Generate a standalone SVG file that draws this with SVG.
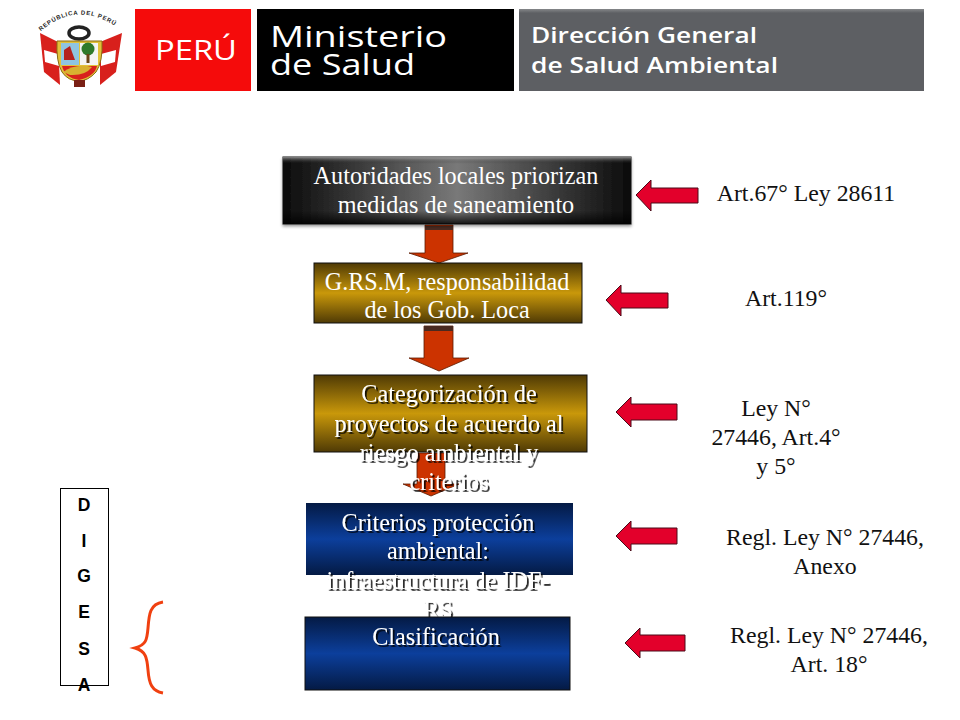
<svg xmlns="http://www.w3.org/2000/svg" width="960" height="720" viewBox="0 0 960 720">
<style>
.box{stroke:#111;stroke-width:1}
.t{font-family:"Liberation Serif","Times New Roman",serif;font-size:24.200px;fill:#fff;text-anchor:middle}
.s{filter:url(#ts)}
.k{font-family:"Liberation Serif","Times New Roman",serif;font-size:23.800px;fill:#111;text-anchor:middle}
.h{font-family:"Open Sans","Noto Sans",sans-serif;fill:#fff}
.l{font-family:"Liberation Sans",Arial,sans-serif;font-size:17.500px;font-weight:bold;fill:#000;text-anchor:middle}
.ra{fill:#e3002b;stroke:#4a0a18;stroke-width:1}
.da{fill:#cc3300;stroke:#5a1a00;stroke-width:.8}
</style>
<defs>
<linearGradient id="gold" x1="0" y1="0" x2="0" y2="1"><stop offset="0" stop-color="#4f3a05"/><stop offset=".5" stop-color="#c9980a"/><stop offset="1" stop-color="#4f3a05"/></linearGradient>
<linearGradient id="blue" x1="0" y1="0" x2="0" y2="1"><stop offset="0" stop-color="#041a44"/><stop offset=".5" stop-color="#0c3f9c"/><stop offset="1" stop-color="#041a44"/></linearGradient>
<linearGradient id="grayv" x1="0" y1="0" x2="0" y2="1"><stop offset="0" stop-color="#85878a"/><stop offset=".05" stop-color="#5d5f63"/><stop offset="1" stop-color="#5d5f63"/></linearGradient>
<linearGradient id="darkh" x1="0" y1="0" x2="1" y2="0"><stop offset="0" stop-color="#0c0c0c"/><stop offset=".5" stop-color="#868686"/><stop offset="1" stop-color="#0c0c0c"/></linearGradient>
<linearGradient id="darkv" x1="0" y1="0" x2="0" y2="1"><stop offset="0" stop-color="#bbb" stop-opacity=".7"/><stop offset=".1" stop-color="#000" stop-opacity=".1"/><stop offset=".8" stop-color="#000" stop-opacity=".1"/><stop offset="1" stop-color="#000" stop-opacity=".85"/></linearGradient>
<filter id="ts" x="-10%" y="-30%" width="120%" height="170%"><feDropShadow dx="1.800" dy="1.800" stdDeviation=".5" flood-color="#000" flood-opacity=".85"/></filter>
<filter id="bs" x="-5%" y="-10%" width="110%" height="125%"><feDropShadow dx="0" dy="2" stdDeviation="1.500" flood-color="#000" flood-opacity=".4"/></filter>
<path id="arc" d="M40 32 Q80 -4 126 34"/>
</defs>
<rect width="960" height="720" fill="#fff"/>
<g id="header">
<g id="coat">
<text font-family="Liberation Sans,Arial,sans-serif" font-size="6" font-weight="bold" fill="#222" letter-spacing=".8"><textPath href="#arc" startOffset="1">REPÚBLICA DEL PERÚ</textPath></text>
<path d="M40 33 L58 42 L60 85 L44 72Z" fill="#d8201c"/><path d="M122 33 L100 42 L100 85 L116 72Z" fill="#d8201c"/>
<path d="M44 50 L58 54 L59 66 L45 62Z" fill="#fff"/><path d="M116 50 L101 54 L101 66 L115 62Z" fill="#fff"/>
<ellipse cx="79" cy="33" rx="10" ry="6" fill="none" stroke="#222" stroke-width="3.500"/>
<path d="M57 41 H102 Q103 62 96 72 Q88 81 79 81 Q68 81 62 72 Q56 62 57 41Z" fill="#e2c13a" stroke="#8a6a10"/>
<rect x="61" y="43" width="18" height="22" fill="#8fc4e0"/><rect x="80" y="43" width="18" height="22" fill="#f4f4f4"/>
<path d="M64 60 L64 50 L70 46 L72 52 L75 60Z" fill="#b5201c"/>
<circle cx="88" cy="49" r="6.500" fill="#2f7a2c"/><rect x="86.500" y="54" width="3" height="9" fill="#6a4418"/>
<path d="M62 66 H97 Q95 76 79 80 Q65 78 62 66Z" fill="#d8201c"/>
<path d="M63 72 Q76 63 92 67 Q85 76 70 75Z" fill="#d8b030"/>
<rect x="74" y="80" width="11" height="7" fill="#7a2015"/>
</g>
<rect id="peru" x="135" y="9" width="116" height="82" fill="#f50b0b"/>
<rect id="min" x="257" y="9" width="257" height="82" fill="#000"/>
<rect id="dgsa" x="519" y="9" width="405" height="82" fill="url(#grayv)"/>
<text class="h" x="155" y="60" font-size="27" textLength="82" lengthAdjust="spacingAndGlyphs">PERÚ</text>
<text class="h" x="270" y="47" font-size="29" textLength="177" lengthAdjust="spacingAndGlyphs">Ministerio</text>
<text class="h" x="270" y="75" font-size="29" textLength="145" lengthAdjust="spacingAndGlyphs">de Salud</text>
<text class="h" x="531" y="43" font-size="21" font-weight="600" fill="#eee" textLength="226" lengthAdjust="spacingAndGlyphs">Dirección General</text>
<text class="h" x="531" y="73" font-size="21" font-weight="600" fill="#eee" textLength="247" lengthAdjust="spacingAndGlyphs">de Salud Ambiental</text>
</g>
<g id="connectors">
<path class="da" d="M425 225H453V253H468L439 263L409 253H425Z"/><rect x="425" y="226" width="28" height="4" fill="#4a2a20"/>
<path class="da" d="M424 326H453V358H469L439 371L409 358H424Z"/><rect x="424" y="326" width="29" height="5" fill="#4a2a20"/>
<path class="da" d="M417 453H445V484H459L431 496L403 484H417Z"/>
<path class="ra" d="M636 195L651 180V188H698V203H651V211Z"/>
<path class="ra" d="M606 300L621 285V293H668V308H621V316Z"/>
<path class="ra" d="M616 412L631 397V404H677V420H631V427Z"/>
<path class="ra" d="M616 536L631 521V528H677V544H631V551Z"/>
<path class="ra" d="M625 643L640 628V635H685V651H640V658Z"/>
<path d="M163 602C150 604 149 614 148 628C147 640 146 645 135 648C146 651 147 658 148 670C149 684 152 691 163 693" fill="none" stroke="#f04010" stroke-width="3"/>
</g>
<g id="n1"><rect class="box" x="283" y="157" width="348" height="67" fill="url(#darkh)" filter="url(#bs)"/><rect x="283" y="157" width="348" height="67" fill="url(#darkv)"/>
<text class="t" x="456" y="184">Autoridades locales priorizan</text><text class="t" x="456" y="213">medidas de saneamiento</text></g>
<g id="n2"><rect class="box" x="314" y="263" width="268" height="60" fill="url(#gold)"/>
<text class="t" x="447" y="290">G.RS.M, responsabilidad</text><text class="t" x="447" y="318">de los Gob. Loca</text></g>
<g id="n3"><rect class="box" x="314" y="375" width="273" height="77" fill="url(#gold)"/>
<g class="s"><text class="t" x="449" y="402">Categorización de</text><text class="t" x="449" y="432">proyectos de acuerdo al</text><text class="t" x="449" y="461">riesgo ambiental y</text><text class="t" x="449" y="490">criterios</text></g></g>
<g id="n4"><rect x="306" y="503" width="267" height="72" fill="url(#blue)"/>
<g class="s"><text class="t" x="438" y="531">Criterios protección</text><text class="t" x="438" y="559">ambiental:</text><text class="t" x="438" y="589">infraestructura de IDF-</text><text class="t" x="438" y="618">RS</text></g></g>
<g id="n5"><rect class="box" x="305" y="617" width="265" height="73" fill="url(#blue)"/>
<g class="s"><text class="t" x="436" y="645">Clasificación</text></g></g>
<g id="digesa"><rect x="60.500" y="488.500" width="48" height="197" fill="#fff" stroke="#000" stroke-width="1"/>
<text class="l" x="84" y="511">D</text><text class="l" x="84" y="547">I</text><text class="l" x="84" y="582">G</text><text class="l" x="84" y="618">E</text><text class="l" x="84" y="655">S</text><text class="l" x="84" y="691">A</text></g>
<g id="refs">
<text class="k" x="806" y="201">Art.67° Ley 28611</text>
<text class="k" x="786" y="306">Art.119°</text>
<text class="k" x="776" y="416">Ley N°</text><text class="k" x="776" y="445">27446, Art.4°</text><text class="k" x="776" y="474">y 5°</text>
<text class="k" x="825" y="545">Regl. Ley N° 27446,</text><text class="k" x="825" y="574">Anexo</text>
<text class="k" x="829" y="643">Regl. Ley N° 27446,</text><text class="k" x="829" y="672">Art. 18°</text>
</g>
</svg>
